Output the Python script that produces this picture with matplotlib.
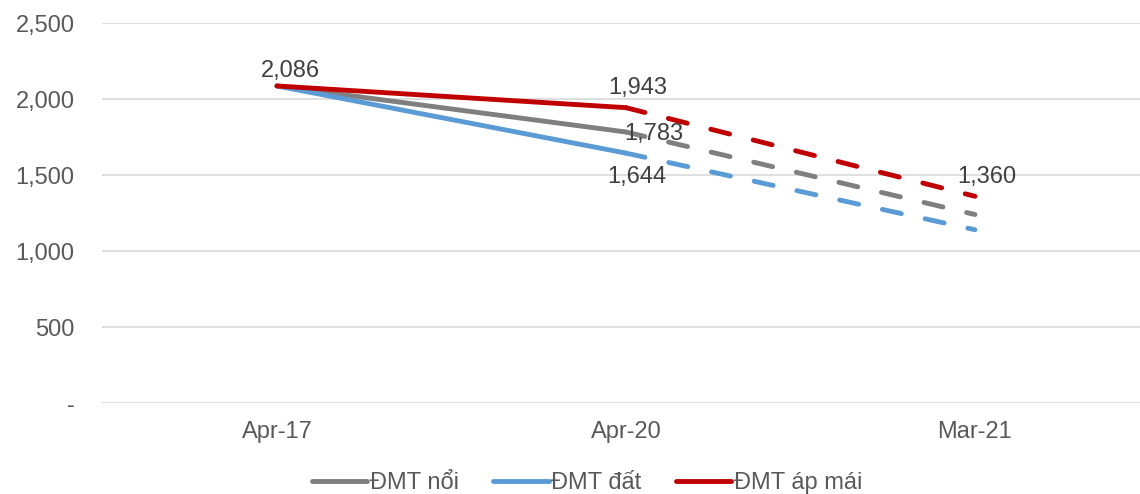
"""
Chart: ĐMT cost trend (Apr-17 -> Apr-20 -> Mar-21)
Solid line for actual values, dashed for the forecast segment.
Output: out.png
"""

import matplotlib
matplotlib.use("Agg")
import matplotlib.pyplot as plt
from matplotlib.ticker import FuncFormatter

plt.rcParams["font.family"] = ["Liberation Sans", "DejaVu Sans"]

# ── Data ──────────────────────────────────────────────────────
categories = ["Apr-17", "Apr-20", "Mar-21"]
series_names = ["ĐMT nổi", "ĐMT đất", "ĐMT áp mái"]
noi = [2086, 1783, 1240]
dat = [2086, 1644, 1140]
ap_mai = [2086, 1943, 1360]

# (series index, point index) pairs that carry a value label
label_points = [(2, 0), (2, 1), (0, 1), (1, 1), (2, 2)]

# ── Style ─────────────────────────────────────────────────────
COLORS = ["#7F7F7F", "#5B9BD5", "#C00000"]
GRID = "#D9D9D9"
TICK_COLOR = "#595959"
LABEL_COLOR = "#404040"
LW = 3.5
FS = 17

# label offsets in pixels (dx, dy), keyed by (series, point)
label_offsets = {
    (2, 0): (13, 15),
    (2, 1): (12, 20),
    (0, 1): (28, -2),
    (1, 1): (11, -24),
    (2, 2): (12, 19),
}

fig = plt.figure(figsize=(11.4, 4.94), dpi=100)
ax = fig.add_axes([0.0899, 0.1842, 0.9184, 0.7692])

all_series = [noi, dat, ap_mai]
x = list(range(len(categories)))

for vals, color, name in zip(all_series, COLORS, series_names):
    # actual segment
    ax.plot(x[:2], vals[:2], color=color, lw=LW, label=name,
            solid_capstyle="round", solid_joinstyle="round", zorder=3)
    # forecast segment
    ax.plot(x[1:], vals[1:], color=color, lw=LW,
            linestyle=(0, (4.0, 5.0)), dash_capstyle="round", zorder=3)

for si, pi in label_points:
    v = all_series[si][pi]
    dx, dy = label_offsets[(si, pi)]
    ax.annotate(f"{v:,}", (x[pi], v), xytext=(dx, dy),
                textcoords="offset pixels", ha="center", va="center",
                fontsize=FS, color=LABEL_COLOR, zorder=5)

# ── Axes ──────────────────────────────────────────────────────
ax.set_xlim(-0.5, 2.5)
ax.set_ylim(0, 2500)
ax.set_yticks(range(0, 2501, 500))
ax.yaxis.set_major_formatter(
    FuncFormatter(lambda v, _: "-" if v == 0 else f"{int(v):,}"))
ax.set_xticks(x)
ax.set_xticklabels(categories)

ax.grid(axis="y", color=GRID, lw=1.2, zorder=0)
ax.set_axisbelow(True)
for spine in ax.spines.values():
    spine.set_visible(False)
ax.tick_params(axis="both", length=0, labelsize=FS, colors=TICK_COLOR)
ax.tick_params(axis="y", pad=20)
ax.tick_params(axis="x", pad=13)

# ── Legend ────────────────────────────────────────────────────
leg = fig.legend(loc="center", bbox_to_anchor=(0.515, 0.022),
                 ncol=3, frameon=False, fontsize=FS,
                 handlelength=2.35, handletextpad=0.12,
                 columnspacing=1.45)
for txt in leg.get_texts():
    txt.set_color(TICK_COLOR)
for h in leg.get_lines():
    h.set_solid_capstyle("round")

fig.savefig("out.png", dpi=100, facecolor="white")
plt.close(fig)
